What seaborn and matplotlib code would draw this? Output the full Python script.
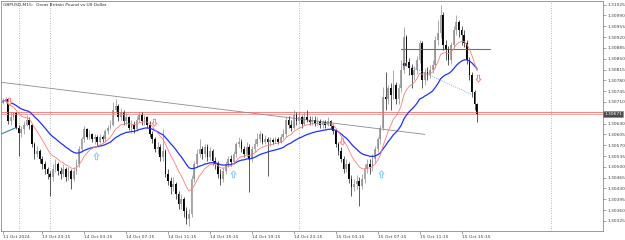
import matplotlib
matplotlib.use("Agg")
import matplotlib.pyplot as plt
from matplotlib.path import Path
import numpy as np
import pandas as pd
import seaborn as sns

# GBPUSD M15 candles, prices written as points above 1.30000 (671 -> 1.30671)
open_pts = [
    708, 714, 718, 647, 660, 673, 627, 611, 621, 637,
    653, 634, 573, 540, 550, 524, 508, 492, 476, 466,
    492, 508, 486, 476, 492, 466, 486, 460, 486, 508,
    557, 589, 621, 598, 605, 589, 595, 582, 595, 589,
    615, 627, 637, 685, 698, 660, 679, 647, 660, 627,
    637, 621, 653, 669, 647, 660, 637, 605, 589, 557,
    563, 531, 550, 476, 453, 434, 444, 412, 379, 395,
    357, 331, 347, 460, 508, 540, 557, 540, 563, 531,
    550, 518, 508, 476, 460, 486, 508, 524, 515, 540,
    573, 582, 557, 540, 563, 524, 557, 573, 589, 605,
    582, 589, 579, 586, 582, 589, 582, 595, 605, 653,
    637, 627, 669, 647, 660, 640, 660, 653, 644, 653,
    640, 647, 634, 644, 637, 647, 631, 615, 573, 550,
    524, 492, 508, 460, 434, 444, 453, 437, 460, 492,
    508, 499, 524, 557, 589, 627, 727, 718, 756, 734,
    766, 718, 756, 814, 921, 840, 821, 798, 814, 847,
    901, 782, 808, 798, 814, 831, 911, 934, 992, 895,
    879, 847, 895, 943, 969, 943, 927, 901, 847, 798,
    743, 702,
]
high_pts = [
    724, 727, 724, 676, 679, 679, 634, 631, 647, 669,
    660, 640, 582, 566, 557, 534, 518, 499, 486, 508,
    524, 515, 499, 508, 499, 499, 492, 499, 524, 566,
    598, 631, 627, 618, 611, 605, 602, 605, 602, 621,
    637, 653, 711, 718, 705, 692, 685, 673, 666, 653,
    647, 663, 679, 676, 669, 666, 647, 615, 598, 579,
    573, 621, 557, 492, 466, 466, 450, 421, 412, 402,
    370, 363, 473, 518, 557, 589, 566, 573, 573, 563,
    557, 531, 518, 492, 499, 518, 534, 537, 550, 582,
    595, 589, 569, 579, 573, 569, 589, 608, 615, 611,
    602, 595, 595, 592, 598, 595, 605, 621, 663, 663,
    653, 685, 679, 676, 669, 679, 685, 666, 663, 666,
    660, 656, 653, 653, 660, 653, 640, 621, 582, 563,
    534, 524, 515, 473, 460, 473, 466, 476, 508, 524,
    524, 540, 569, 598, 637, 760, 808, 766, 772, 814,
    776, 769, 847, 953, 927, 853, 834, 827, 860, 911,
    908, 821, 824, 831, 847, 924, 976, 1024, 1001, 911,
    892, 905, 956, 992, 976, 956, 943, 911, 856, 808,
    750, 708,
]
low_pts = [
    702, 708, 640, 637, 650, 621, 534, 595, 605, 631,
    621, 563, 524, 531, 511, 492, 476, 460, 405, 453,
    482, 473, 460, 466, 453, 457, 428, 453, 476, 499,
    547, 579, 589, 589, 579, 573, 569, 576, 579, 582,
    605, 621, 631, 676, 647, 653, 637, 634, 618, 611,
    608, 615, 644, 634, 637, 627, 595, 576, 547, 540,
    518, 518, 466, 441, 412, 421, 395, 363, 363, 337,
    315, 308, 337, 450, 499, 531, 524, 531, 518, 521,
    505, 492, 463, 441, 450, 476, 499, 502, 508, 531,
    563, 547, 531, 531, 418, 515, 547, 566, 579, 573,
    573, 470, 569, 573, 576, 573, 576, 589, 598, 627,
    615, 621, 637, 640, 627, 634, 644, 634, 637, 631,
    634, 627, 627, 627, 631, 621, 605, 563, 537, 515,
    479, 482, 447, 405, 421, 428, 373, 428, 447, 479,
    476, 486, 515, 547, 573, 618, 685, 705, 685, 718,
    702, 705, 743, 805, 827, 798, 756, 782, 802, 837,
    756, 766, 782, 789, 805, 821, 895, 918, 879, 847,
    831, 834, 885, 927, 921, 895, 889, 834, 782, 727,
    685, 644,
]
close_pts = [
    714, 718, 647, 660, 673, 627, 611, 621, 637, 653,
    634, 573, 540, 550, 524, 508, 492, 476, 466, 492,
    508, 486, 476, 492, 466, 486, 460, 486, 508, 557,
    589, 621, 598, 605, 589, 595, 582, 595, 589, 615,
    627, 637, 685, 698, 660, 679, 647, 660, 627, 637,
    621, 653, 669, 647, 660, 637, 605, 589, 557, 563,
    531, 550, 476, 453, 434, 444, 412, 379, 395, 357,
    331, 347, 460, 508, 540, 557, 540, 563, 531, 550,
    518, 508, 476, 460, 486, 508, 524, 515, 540, 573,
    582, 557, 540, 563, 524, 557, 573, 589, 605, 582,
    589, 579, 586, 582, 589, 582, 595, 605, 653, 637,
    627, 669, 647, 660, 640, 660, 653, 644, 653, 640,
    647, 634, 644, 637, 647, 631, 615, 573, 550, 524,
    492, 508, 460, 434, 444, 453, 437, 460, 492, 508,
    499, 524, 557, 589, 627, 727, 718, 756, 734, 766,
    718, 756, 814, 921, 840, 821, 798, 814, 847, 901,
    782, 808, 798, 814, 831, 911, 934, 992, 895, 879,
    847, 895, 943, 969, 943, 927, 901, 847, 798, 743,
    702, 671,
]

time_tick_pos = [0, 15, 31, 47, 63, 79, 95, 111, 127, 143, 159, 175]
time_tick_labels = ["11 Oct 2024", "13 Oct 23:15", "14 Oct 03:15", "14 Oct 07:15",
                    "14 Oct 11:15", "14 Oct 15:15", "14 Oct 19:15", "14 Oct 23:15",
                    "15 Oct 03:15", "15 Oct 07:15", "15 Oct 11:15", "15 Oct 15:15"]
price_tick_pts = [1025, 990, 955, 920, 885, 850, 815, 780, 745, 710,
                  640, 605, 570, 535, 500, 465, 430, 395, 360, 325]
separators = [6, 18, 113, 209]

# drawn objects
trend_x, trend_pts = [-1, 161], [774, 605]
teal_x, teal_pts = [-1, 5], [605, 627]
level_x, level_pts = [152, 186], [881, 881]
dotted_x, dotted_pts = [153, 179], [834, 734]
ask_pts, bid_pts = 678, 671
up_arrow_x, up_arrow_pts = [35.4, 87.6, 144.4], [534, 476, 476]
down_arrow_x, down_arrow_pts = [2.3, 57.5, 129.5, 181.3], [714, 644, 585, 789]


def px(pts):
    return 1.3 + np.asarray(pts) / 1e5


df = pd.DataFrame({
    "idx": np.arange(len(close_pts)),
    "open": px(open_pts), "high": px(high_pts),
    "low": px(low_pts), "close": px(close_pts),
})
df["ma_slow"] = df["close"].ewm(span=28, adjust=False).mean()
df["ma_fast"] = df["close"].ewm(span=12, adjust=False).mean()

sns.set_theme(style="white")
plt.rcParams["font.family"] = ["DejaVu Sans"]

fig = plt.figure(figsize=(6.25, 2.4), dpi=100)
ax = fig.add_axes([1 / 625, 9 / 240, 602 / 625, 230 / 240])

for x in separators:
    ax.axvline(x, color="#a0a0a0", lw=0.6, ls=(0, (1, 2)))

ax.axhline(px(ask_pts), color="#ff6a6a", lw=0.6)
ax.axhline(px(bid_pts), color="#e89a9a", lw=0.6)

ax.plot(trend_x, px(trend_pts), color="#8c8c8c", lw=0.6)
ax.plot(teal_x, px(teal_pts), color="#2e8b9a", lw=0.8)
ax.plot(level_x, px(level_pts), color="#707070", lw=0.8)
ax.plot(dotted_x, px(dotted_pts), color="#5a9ae6", lw=0.6, ls=(0, (1, 1.5)))
ax.plot(dotted_x[0], px(dotted_pts[0]), "o", color="#1a2a80", ms=1.5)

up = df["close"] >= df["open"]
for mask, body_col, wick_col in [(up, "#a6a6a6", "#8c8c8c"), (~up, "#000000", "#1a1a1a")]:
    d = df[mask]
    ax.vlines(d["idx"], d["low"], d["high"], color=wick_col, lw=0.5)
    ax.bar(d["idx"], (d["close"] - d["open"]).abs(),
           bottom=np.minimum(d["open"], d["close"]), width=0.65,
           color=body_col, lw=0)

sns.lineplot(data=df, x="idx", y="ma_slow", ax=ax, color="#2030ff", lw=0.9)
sns.lineplot(data=df, x="idx", y="ma_fast", ax=ax, color="#ff7c7c", lw=0.6)

# hollow block arrows
up_arrow = Path([(0, 1), (0.7, 0.15), (0.28, 0.15), (0.28, -0.9), (-0.28, -0.9),
                 (-0.28, 0.15), (-0.7, 0.15), (0, 1)], closed=True)
down_arrow = Path([(0, -1), (0.7, -0.15), (0.28, -0.15), (0.28, 0.9), (-0.28, 0.9),
                   (-0.28, -0.15), (-0.7, -0.15), (0, -1)], closed=True)
sns.scatterplot(x=up_arrow_x, y=px(up_arrow_pts), ax=ax, marker=up_arrow, s=28,
                facecolor="white", edgecolor="#7cc6f2", linewidth=0.6, zorder=5)
sns.scatterplot(x=down_arrow_x, y=px(down_arrow_pts), ax=ax, marker=down_arrow, s=28,
                facecolor="white", edgecolor="#ff7070", linewidth=0.6, zorder=5)

ax.set_xlim(-0.76, 229)
ax.set_ylim(1.302923, 1.310368)
ax.set_xlabel("")
ax.set_ylabel("")

ax.set_xticks(time_tick_pos)
ax.set_xticklabels(time_tick_labels, ha="left")
ax.yaxis.tick_right()
ax.set_yticks(px(price_tick_pts))
ax.set_yticklabels([f"{p:.5f}" for p in px(price_tick_pts)])
ax.tick_params(axis="both", which="both", labelsize=3.2, colors="#808080",
               labelcolor="#404040", width=0.5, pad=1)
ax.tick_params(axis="x", length=2.5, bottom=True, pad=0.4)
ax.tick_params(axis="y", length=2, right=True)

for s in ax.spines.values():
    s.set_color("#8a8a8a")
    s.set_linewidth(0.6)

ax.text(0.004, 0.99, "GBPUSD,M15:  Great Britain Pound vs US Dollar",
        transform=ax.transAxes, ha="left", va="top", fontsize=3.2, color="#303030")

ax.text(1.002, px(bid_pts), f"{px(bid_pts):.5f}", transform=ax.get_yaxis_transform(),
        ha="left", va="center", fontsize=3.2, color="white", clip_on=False,
        bbox=dict(boxstyle="square,pad=0.2", fc="#4a4a4a", ec="#ff5050", lw=0.4))

fig.savefig("out.png", dpi=100)
